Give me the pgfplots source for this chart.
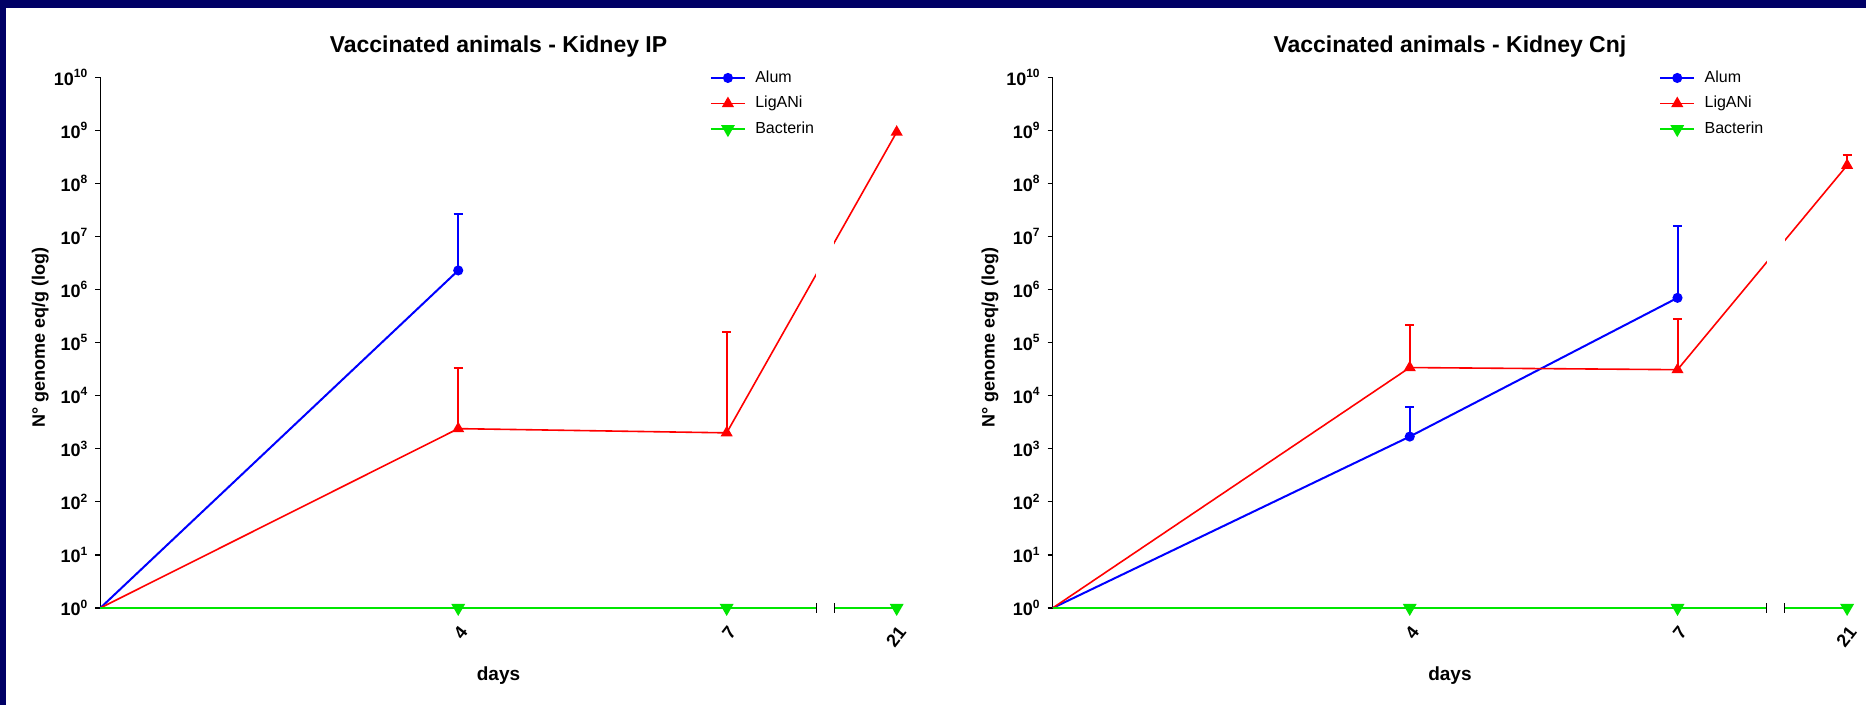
\documentclass[border=0pt]{standalone}
\usepackage{pgfplots}
\pgfplotsset{compat=1.18}
\usepackage{fontspec}
\setmainfont{Liberation Sans}
\definecolor{navy}{RGB}{0,0,102}
\definecolor{pblue}{RGB}{0,0,255}
\definecolor{pred}{RGB}{255,0,0}
\definecolor{pgreen}{RGB}{0,230,0}

\begin{document}
\begin{tikzpicture}
\useasboundingbox (0pt,0pt) rectangle (933pt,352.5pt);
\fill[white] (0pt,0pt) rectangle (933pt,352.5pt);
\fill[navy] (0pt,348.5pt) rectangle (933pt,352.5pt);
\fill[navy] (0pt,0pt) rectangle (3pt,352.5pt);

% ---------------- Kidney IP ----------------
\begin{axis}[
  at={(50.15pt,48.5pt)}, anchor=south west,
  scale only axis, width=398.2pt, height=265.3pt,
  ymode=log, ymin=1, ymax=1e10, xmin=0, xmax=8.9,
  axis y line*=left, axis x line*=bottom,
  x axis line style={draw=none},
  y axis line style={black, line width=0.6pt},
  ytick={1,10,100,1e3,1e4,1e5,1e6,1e7,1e8,1e9,1e10},
  yticklabels={10\textsuperscript{0},10\textsuperscript{1},10\textsuperscript{2},10\textsuperscript{3},10\textsuperscript{4},10\textsuperscript{5},10\textsuperscript{6},10\textsuperscript{7},10\textsuperscript{8},10\textsuperscript{9},10\textsuperscript{10}},
  yminorticks=false,
  yticklabel style={font=\bfseries\fontsize{9}{10}\selectfont},
  tick align=outside, major tick length=2.5pt,
  ytick style={black, line width=0.6pt},
  xtick={4,7,8.9}, xticklabels={4,7,21},
  xticklabel style={font=\bfseries\fontsize{9}{10}\selectfont, rotate=52, anchor=east, yshift=-7pt, xshift=-1pt},
  xtick style={draw=none},
  clip=false,
  title={Vaccinated animals - Kidney IP},
  title style={font=\bfseries\fontsize{11.5}{13}\selectfont, at={(axis description cs:0.5,1)}, anchor=center, yshift=9.6pt},
  xlabel={days},
  xlabel style={font=\bfseries\fontsize{9.5}{11}\selectfont, at={(axis description cs:0.5,0)}, anchor=center, yshift=-34pt},
  ylabel={N° genome eq/g (log)},
  ylabel style={font=\bfseries\fontsize{9}{11}\selectfont, at={(axis description cs:-0.0755,0.51)}, anchor=center},
  legend style={draw=none, fill=none, font=\fontsize{8}{9.5}\selectfont, at={(axis description cs:0.757,1.0285)}, anchor=north west, row sep=1.5pt, column sep=2.5pt},
  legend cell align=left,
]
\addplot[pblue, line width=1pt, forget plot] coordinates {(0,1) (4,2.3e6)};
\addplot[pred, line width=0.8pt, forget plot] coordinates {(0,1) (4,2.4e3)};
\addplot[pblue, draw=none, mark=none, forget plot,
  error bars/y dir=plus, error bars/y explicit,
  error bars/error bar style={draw=pblue, line width=1pt},
  error bars/error mark options={draw=pblue, line width=1pt, mark size=2.3pt, rotate=90}]
  coordinates {(4,2.3e6) +- (0,2.4e7)};
\addplot[pred, draw=none, mark=none, forget plot,
  error bars/y dir=plus, error bars/y explicit,
  error bars/error bar style={draw=pred, line width=1pt},
  error bars/error mark options={draw=pred, line width=1pt, mark size=2.3pt, rotate=90}]
  coordinates {(4,2.4e3) +- (0,3.08e4) (7,2.0e3) +- (0,1.6e5)};
\addplot[pblue, line width=1pt, mark=*, mark size=2pt, mark options={solid, fill=pblue}]
  coordinates {(4,2.3e6)};
\addlegendentry{Alum}
\addplot[pred, line width=0.8pt, mark=triangle*, mark size=2.7pt, mark options={solid, fill=pred}]
  coordinates {(4,2.4e3) (7,2.0e3) (8.9,9.3e8)};
\addlegendentry{LigANi}
\addplot[pgreen, line width=1.3pt, forget plot] coordinates {(0,1) (4,1)};
\addplot[pgreen, line width=1.3pt, mark=triangle*, mark size=2.7pt, mark options={solid, fill=pgreen, rotate=180}]
  coordinates {(4,1) (7,1) (8.9,1)};
\addlegendentry{Bacterin}
\fill[white] (axis cs:8.0,0.78) rectangle (axis cs:8.2,2e9);
\draw[black, line width=0.5pt] (axis cs:8.0,1) ++(0pt,-2.5pt) -- ++(0pt,5pt);
\draw[black, line width=0.5pt] (axis cs:8.2,1) ++(0pt,-2.5pt) -- ++(0pt,5pt);
\end{axis}

% ---------------- Kidney Cnj ----------------
\begin{axis}[
  at={(526.35pt,48.5pt)}, anchor=south west,
  scale only axis, width=397.2pt, height=265.3pt,
  ymode=log, ymin=1, ymax=1e10, xmin=0, xmax=8.9,
  axis y line*=left, axis x line*=bottom,
  x axis line style={draw=none},
  y axis line style={black, line width=0.6pt},
  ytick={1,10,100,1e3,1e4,1e5,1e6,1e7,1e8,1e9,1e10},
  yticklabels={10\textsuperscript{0},10\textsuperscript{1},10\textsuperscript{2},10\textsuperscript{3},10\textsuperscript{4},10\textsuperscript{5},10\textsuperscript{6},10\textsuperscript{7},10\textsuperscript{8},10\textsuperscript{9},10\textsuperscript{10}},
  yminorticks=false,
  yticklabel style={font=\bfseries\fontsize{9}{10}\selectfont},
  tick align=outside, major tick length=2.5pt,
  ytick style={black, line width=0.6pt},
  xtick={4,7,8.9}, xticklabels={4,7,21},
  xticklabel style={font=\bfseries\fontsize{9}{10}\selectfont, rotate=52, anchor=east, yshift=-7pt, xshift=-1pt},
  xtick style={draw=none},
  clip=false,
  title={Vaccinated animals - Kidney Cnj},
  title style={font=\bfseries\fontsize{11.5}{13}\selectfont, at={(axis description cs:0.5,1)}, anchor=center, yshift=9.6pt},
  xlabel={days},
  xlabel style={font=\bfseries\fontsize{9.5}{11}\selectfont, at={(axis description cs:0.5,0)}, anchor=center, yshift=-34pt},
  ylabel={N° genome eq/g (log)},
  ylabel style={font=\bfseries\fontsize{9}{11}\selectfont, at={(axis description cs:-0.079,0.51)}, anchor=center},
  legend style={draw=none, fill=none, font=\fontsize{8}{9.5}\selectfont, at={(axis description cs:0.755,1.0285)}, anchor=north west, row sep=1.5pt, column sep=2.5pt},
  legend cell align=left,
]
\addplot[pblue, line width=1pt, forget plot] coordinates {(0,1) (4,1.7e3)};
\addplot[pred, line width=0.8pt, forget plot] coordinates {(0,1) (4,3.4e4)};
\addplot[pblue, draw=none, mark=none, forget plot,
  error bars/y dir=plus, error bars/y explicit,
  error bars/error bar style={draw=pblue, line width=1pt},
  error bars/error mark options={draw=pblue, line width=1pt, mark size=2.3pt, rotate=90}]
  coordinates {(4,1.7e3) +- (0,4.5e3) (7,7.0e5) +- (0,1.49e7)};
\addplot[pred, draw=none, mark=none, forget plot,
  error bars/y dir=plus, error bars/y explicit,
  error bars/error bar style={draw=pred, line width=1pt},
  error bars/error mark options={draw=pred, line width=1pt, mark size=2.3pt, rotate=90}]
  coordinates {(4,3.4e4) +- (0,1.86e5) (7,3.1e4) +- (0,2.5e5) (8.9,2.2e8) +- (0,1.2e8)};
\addplot[pblue, line width=1pt, mark=*, mark size=2pt, mark options={solid, fill=pblue}]
  coordinates {(4,1.7e3) (7,7.0e5)};
\addlegendentry{Alum}
\addplot[pred, line width=0.8pt, mark=triangle*, mark size=2.7pt, mark options={solid, fill=pred}]
  coordinates {(4,3.4e4) (7,3.1e4) (8.9,2.2e8)};
\addlegendentry{LigANi}
\addplot[pgreen, line width=1.3pt, forget plot] coordinates {(0,1) (4,1)};
\addplot[pgreen, line width=1.3pt, mark=triangle*, mark size=2.7pt, mark options={solid, fill=pgreen, rotate=180}]
  coordinates {(4,1) (7,1) (8.9,1)};
\addlegendentry{Bacterin}
\fill[white] (axis cs:8.0,0.78) rectangle (axis cs:8.2,2e9);
\draw[black, line width=0.5pt] (axis cs:8.0,1) ++(0pt,-2.5pt) -- ++(0pt,5pt);
\draw[black, line width=0.5pt] (axis cs:8.2,1) ++(0pt,-2.5pt) -- ++(0pt,5pt);
\end{axis}
\end{tikzpicture}
\end{document}
